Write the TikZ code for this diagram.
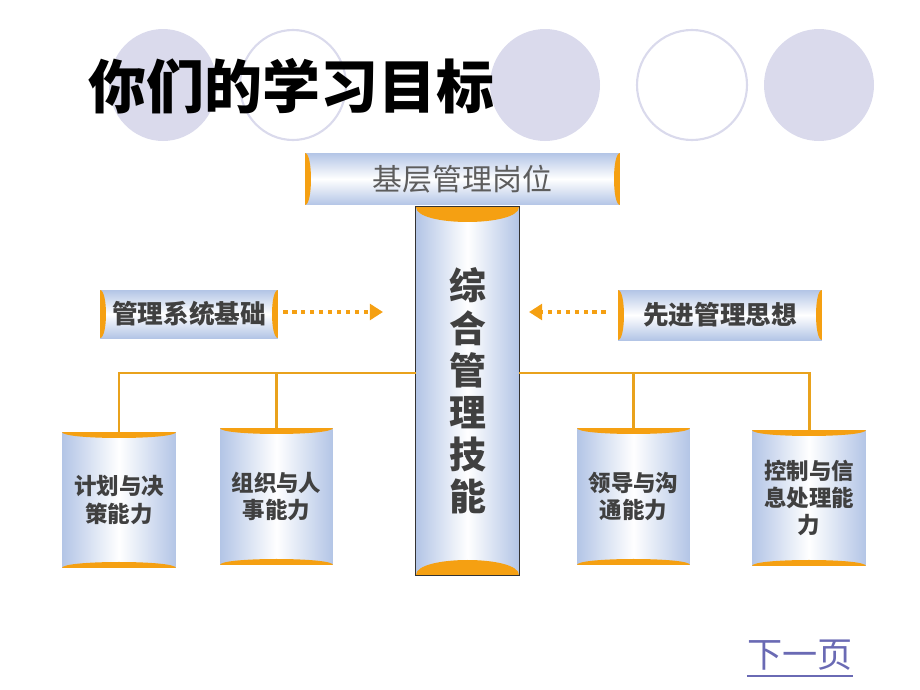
\documentclass[tikz,border=0pt]{standalone}
\usepackage{fontspec}
\newfontfamily\cjk{Noto Sans CJK SC}
\usepackage{xcolor}
\usetikzlibrary{arrows.meta, positioning}
\definecolor{capor}{HTML}{F5A012}
\definecolor{tieor}{HTML}{E9A21C}
\definecolor{pale}{HTML}{B3C5E6}
\definecolor{lav}{HTML}{DADAEC}
\definecolor{txtgray}{HTML}{404040}
\definecolor{linkblue}{HTML}{6A6AB4}
\tikzstyle{hbar} = [inner sep=0pt, top color=pale, bottom color=pale, middle color=white, text=txtgray]
\tikzstyle{vbar} = [inner sep=0pt, left color=pale, right color=pale, middle color=white, text=txtgray, align=center]
\tikzstyle{tie} = [draw=tieor, line width=1.7pt]
\tikzstyle{flow} = [draw=capor, line width=2.4pt, dash pattern=on 2.4pt off 2.7pt, -{Triangle[length=7.5pt,width=9pt]}]

\begin{document}
\begin{tikzpicture}[x=0.02cm,y=-0.02cm]
\useasboundingbox (0,0) rectangle (920,690);

% Background circles
\fill[lav] (163,85) ellipse [x radius=54, y radius=56];
\draw[lav, line width=1.2pt] (293,85) ellipse [x radius=53, y radius=55];
\fill[lav] (545,85) ellipse [x radius=55, y radius=56];
\draw[lav, line width=1.2pt] (692,85) ellipse [x radius=55, y radius=55];
\fill[lav] (819,85) ellipse [x radius=55, y radius=56];

% Title
\node[anchor=west, inner sep=0pt, font=\cjk\bfseries\fontsize{33pt}{36pt}\selectfont] (title) at (88,86) {你们的学习目标};

% The boxes
\node[hbar, minimum width=6.3cm, minimum height=1.04cm, font=\cjk\fontsize{17pt}{19pt}\selectfont, text=txtgray!85] (post) at (462.5,179) {基层管理岗位};
\node[hbar, minimum width=3.56cm, minimum height=0.96cm, font=\cjk\bfseries\fontsize{14.6pt}{16pt}\selectfont] (base) at (189,314) {管理系统基础};
\node[hbar, minimum width=4.08cm, minimum height=1.0cm, font=\cjk\bfseries\fontsize{14.6pt}{16pt}\selectfont] (idea) at (720,315) {先进管理思想};
\node[vbar, minimum width=2.06cm, minimum height=7.36cm, font=\cjk\bfseries\fontsize{21pt}{24pt}\selectfont] (skill) at (467.5,391) {综\\合\\管\\理\\技\\能};

\node[vbar, minimum width=2.28cm, minimum height=2.72cm, font=\cjk\bfseries\fontsize{12.8pt}{15.4pt}\selectfont] (plan) at (119,500) {计划与决\\策能力};
\node[vbar, minimum width=2.26cm, minimum height=2.74cm, font=\cjk\bfseries\fontsize{12.8pt}{15.4pt}\selectfont] (org) at (276.5,496.5) {组织与人\\事能力};
\node[vbar, minimum width=2.26cm, minimum height=2.74cm, font=\cjk\bfseries\fontsize{12.8pt}{15.4pt}\selectfont] (lead) at (633.5,496.5) {领导与沟\\通能力};
\node[vbar, minimum width=2.28cm, minimum height=2.72cm, font=\cjk\bfseries\fontsize{12.8pt}{15.4pt}\selectfont] (ctrl) at (809,498) {控制与信\\息处理能\\力};

% Orange caps
\foreach \n in {post,base,idea} {
  \fill[capor] (\n.north west) .. controls +(8,0) and +(8,0) .. (\n.south west) -- cycle;
  \fill[capor] (\n.north east) .. controls +(-8,0) and +(-8,0) .. (\n.south east) -- cycle;
}
\fill[capor] (skill.north west) .. controls +(0,20) and +(0,20) .. (skill.north east) -- cycle;
\fill[capor] (skill.south west) .. controls +(0,-20) and +(0,-20) .. (skill.south east) -- cycle;
\draw[black!80, line width=0.8pt] (skill.north west) rectangle (skill.south east);
\foreach \n in {plan,org,lead,ctrl} {
  \fill[capor] (\n.north west) .. controls +(0,8) and +(0,8) .. (\n.north east) -- cycle;
  \fill[capor] (\n.south west) .. controls +(0,-8) and +(0,-8) .. (\n.south east) -- cycle;
}

% Connectors
\coordinate (hub) at (467.5,373);
\draw[tie] (skill.west |- hub) -| (plan.north);
\draw[tie] (org.north) -- (org.north |- hub);
\draw[tie] (skill.east |- hub) -| (ctrl.north);
\draw[tie] (lead.north) -- (lead.north |- hub);

% Dotted arrows
\coordinate (tipL) at (383,312);
\coordinate (tipR) at (529,312);
\draw[flow] (base.east) ++(5,-2) -- (tipL);
\draw[flow] (idea.west) ++(-12,-3) -- (tipR);

% Link
\node[inner sep=0pt, font=\cjk\fontsize{20pt}{22pt}\selectfont, text=linkblue] (next) at (800,655) {下一页};
\draw[linkblue, line width=0.9pt] ([yshift=-3pt]next.south west) -- ([yshift=-3pt]next.south east);

\end{tikzpicture}
\end{document}
